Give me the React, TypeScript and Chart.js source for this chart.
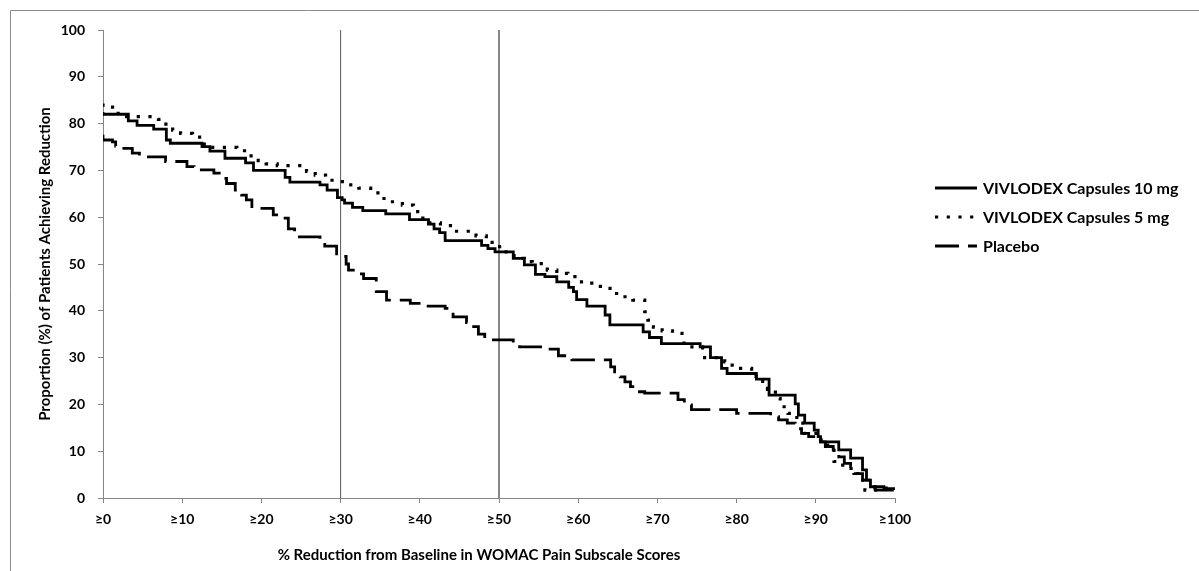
import { useEffect, useRef } from 'react';
import { Chart, registerables } from 'chart.js';

Chart.register(...registerables);

// ---- Data ----
const xTicks = [0, 10, 20, 30, 40, 50, 60, 70, 80, 90, 100];
const xTickLabels = ['≥0', '≥10', '≥20', '≥30', '≥40', '≥50', '≥60', '≥70', '≥80', '≥90', '≥100'];
const yTicks = [0, 10, 20, 30, 40, 50, 60, 70, 80, 90, 100];

const seriesNames = ['VIVLODEX Capsules 10 mg', 'VIVLODEX Capsules 5 mg', 'Placebo'];

const x10mg = [0, 3.2, 4.3, 6.4, 8.0, 8.5, 12.5, 13.5, 15.4, 18, 19, 23, 23.6, 27.4, 28.3, 29.6, 30.2, 30.5, 31.5, 32.8, 35.7, 38.7, 41.1, 41.8, 42.5, 43.2, 47.8, 48.6, 49.5, 51.8, 53.2, 54.6, 55.8, 57.3, 58.8, 59.4, 59.8, 61.1, 63.4, 64.0, 68.2, 69.0, 70.5, 75.4, 76.7, 78.1, 78.8, 82.5, 84.1, 87.4, 87.8, 88.6, 89.8, 90.3, 90.6, 92.9, 94.4, 95.9, 96.4, 96.9, 98.6, 100];
const y10mg = [82.5, 82.0, 80.6, 79.6, 78.8, 76.5, 75.8, 75.1, 74.1, 72.6, 71.6, 70.0, 68.5, 67.5, 66.9, 65.8, 64.2, 63.7, 63.0, 62.1, 61.4, 60.7, 59.5, 58.5, 57.5, 56.7, 55.0, 54.0, 53.3, 52.6, 51.2, 49.8, 47.8, 47.3, 46.2, 45.0, 44.1, 42.4, 41.0, 39.1, 37.0, 35.5, 34.3, 33.0, 32.3, 30.0, 27.7, 26.6, 25.4, 22.0, 20.1, 17.7, 16.0, 14.5, 13.1, 12.0, 10.3, 8.5, 6.0, 3.8, 2.4, 2.0];

const x5mg = [0, 1.6, 2.6, 7.0, 7.6, 8.8, 9.8, 11.3, 12.6, 13.6, 16.9, 18.2, 19.6, 20.6, 22.0, 25.7, 26.8, 28.1, 29.3, 30.8, 32.3, 33.8, 35.2, 36.3, 37.8, 39.2, 40.1, 41.1, 42.6, 44.1, 47.1, 48.4, 49.4, 50.9, 51.9, 53.2, 54.2, 56.1, 57.3, 58.7, 60.1, 61.4, 62.8, 64.3, 65.4, 66.9, 68.4, 68.8, 69.5, 70.6, 71.9, 73.1, 74.1, 75.7, 78.5, 79.1, 80.5, 81.9, 83.3, 83.9, 84.9, 85.5, 86.5, 87.6, 88.5, 90.6, 91.5, 92.3, 93.4, 95.3, 96.2, 97.5, 99.3, 100];
const y5mg = [84.3, 83.5, 82.2, 81.5, 80.9, 79.9, 78.6, 77.9, 77.1, 75.6, 74.9, 74.2, 73.1, 72.1, 71.4, 71.0, 69.8, 69.0, 67.9, 67.6, 66.9, 66.2, 65.2, 64.0, 63.3, 62.6, 61.2, 59.8, 58.8, 58.2, 57.0, 56.0, 54.6, 53.7, 52.6, 51.2, 50.5, 50.1, 48.7, 48.0, 47.3, 46.2, 45.9, 44.8, 43.7, 43.0, 42.3, 39.8, 38.0, 36.5, 35.7, 35.2, 33.1, 32.3, 30.0, 29.1, 28.4, 27.7, 26.0, 24.9, 23.2, 21.3, 19.5, 18.1, 16.0, 13.8, 12.4, 11.0, 7.8, 6.3, 3.8, 1.7, 2.1, 2.1];

const xPlacebo = [0, 1.2, 1.6, 2.2, 3.7, 4.6, 7.9, 10.6, 11.5, 14.0, 15.0, 15.6, 16.7, 17.5, 18.1, 18.8, 21.5, 22.1, 23.4, 24.2, 24.8, 27.4, 28.0, 29.5, 30.7, 31.0, 31.6, 32.9, 34.5, 35.8, 38.8, 40.5, 43.2, 44.2, 45.9, 46.8, 47.4, 48.2, 51.8, 52.6, 56.0, 57.5, 59.2, 64.1, 64.6, 65.3, 65.9, 66.6, 67.4, 68.4, 72.6, 73.4, 74.3, 80.0, 84.3, 85.3, 86.4, 87.4, 88.2, 89.1, 90.1, 91.2, 92.2, 92.9, 93.6, 94.4, 94.8, 95.9, 97.1, 97.5, 98.5, 99.4, 100];
const yPlacebo = [77.6, 76.5, 76.1, 75.2, 74.7, 73.7, 72.9, 71.9, 70.8, 70.1, 69.4, 68.3, 67.2, 65.8, 64.7, 63.7, 61.9, 60.5, 59.8, 57.5, 57.0, 55.8, 54.6, 53.8, 51.6, 50.0, 48.7, 47.9, 46.9, 44.1, 42.3, 41.6, 41.0, 40.5, 38.7, 37.5, 36.6, 35.0, 33.8, 32.7, 32.3, 31.8, 30.4, 29.5, 28.0, 26.5, 25.9, 24.8, 23.8, 22.7, 22.4, 21.0, 19.9, 18.9, 18.1, 17.4, 16.7, 16.0, 14.8, 13.8, 13.1, 12.0, 11.0, 10.3, 8.8, 7.4, 6.7, 5.2, 3.8, 2.4, 1.7, 1.7, 1.7];

const refLinesX = [30, 50];
const refLineColors = ['#555555', '#111111'];

const xTitle = '% Reduction from Baseline in WOMAC Pain Subscale Scores';
const yTitle = 'Proportion (%) of Patients Achieving Reduction';

const FONT = 'Lato, "Open Sans", "DejaVu Sans", sans-serif';

function toPoints(xs: number[], ys: number[]) {
  return xs.map((x, i) => ({ x, y: ys[i] }));
}

const extrasPlugin = {
  id: 'extras',
  afterDraw(chart: any) {
    const ctx = chart.ctx as CanvasRenderingContext2D;
    const area = chart.chartArea;
    ctx.save();
    // Outer frame
    ctx.strokeStyle = '#8c8c8c';
    ctx.lineWidth = 1;
    ctx.beginPath();
    ctx.moveTo(10.5, chart.height);
    ctx.lineTo(10.5, 10.5);
    ctx.lineTo(chart.width, 10.5);
    ctx.stroke();

    // Axis titles
    ctx.fillStyle = '#000';
    ctx.font = `bold 15px ${FONT}`;
    ctx.textAlign = 'center';
    ctx.textBaseline = 'middle';
    ctx.fillText(xTitle, 479, 555);
    ctx.save();
    ctx.translate(45, (area.top + area.bottom) / 2);
    ctx.rotate(-Math.PI / 2);
    ctx.fillText(yTitle, 0, 0);
    ctx.restore();

    // Legend
    const rowsY = [188, 217, 246];
    const ds = chart.data.datasets.filter((d: any) => !d.isRef);
    ds.forEach((d: any, i: number) => {
      const y = rowsY[i];
      ctx.save();
      ctx.strokeStyle = d.borderColor;
      ctx.lineWidth = d.borderWidth;
      ctx.setLineDash(d.borderDash || []);
      ctx.lineCap = 'butt';
      ctx.beginPath();
      ctx.moveTo(935, y);
      ctx.lineTo(977, y);
      ctx.stroke();
      ctx.restore();
      ctx.fillStyle = '#000';
      ctx.font = `bold 16px ${FONT}`;
      ctx.textAlign = 'left';
      ctx.textBaseline = 'middle';
      ctx.fillText(d.label, 983, y + 1);
    });
    ctx.restore();
  },
};

export default function App() {
  const canvasRef = useRef<HTMLCanvasElement | null>(null);

  useEffect(() => {
    if (!canvasRef.current) return;
    const refDatasets = refLinesX.map((rx, i) => ({
      label: 'ref' + rx,
      isRef: true,
      data: [{ x: rx, y: 0 }, { x: rx, y: 100 }],
      borderColor: refLineColors[i],
      borderWidth: 1,
      pointRadius: 0,
      order: 10,
    }));
    const chart = new Chart(canvasRef.current, {
      type: 'line',
      data: {
        datasets: [
          {
            label: seriesNames[0],
            data: toPoints(x10mg, y10mg),
            borderColor: '#000',
            borderWidth: 2.8,
            pointRadius: 0,
            stepped: 'after',
            order: 1,
          },
          {
            label: seriesNames[1],
            data: toPoints(x5mg, y5mg),
            borderColor: '#000',
            borderWidth: 3.2,
            borderDash: [3.2, 8.5],
            pointRadius: 0,
            stepped: 'after',
            order: 2,
          },
          {
            label: seriesNames[2],
            data: toPoints(xPlacebo, yPlacebo),
            borderColor: '#000',
            borderWidth: 2.8,
            borderDash: [24, 9],
            pointRadius: 0,
            stepped: 'after',
            order: 3,
          },
          ...refDatasets,
        ] as any,
      },
      options: {
        responsive: false,
        animation: false,
        devicePixelRatio: 1,
        layout: { padding: { left: 0, top: 30, right: 304, bottom: 0 } },
        plugins: {
          legend: { display: false },
          tooltip: { enabled: false },
        },
        scales: {
          x: {
            type: 'linear',
            min: 0,
            max: 100,
            afterBuildTicks: (scale: any) => {
              scale.ticks = xTicks.map((v) => ({ value: v }));
            },
            afterFit: (scale: any) => {
              scale.height = 73;
            },
            ticks: {
              autoSkip: false,
              maxRotation: 0,
              color: '#000',
              padding: 8,
              font: { family: FONT, size: 14, weight: 'bold' },
              callback: (v: any) => {
                const i = xTicks.indexOf(Number(v));
                return i >= 0 ? xTickLabels[i] : '';
              },
            },
            grid: { drawOnChartArea: false, drawTicks: true, tickLength: 5, color: '#868686' },
            border: { color: '#868686', width: 1 },
          },
          y: {
            type: 'linear',
            min: 0,
            max: 100,
            afterBuildTicks: (scale: any) => {
              scale.ticks = yTicks.map((v) => ({ value: v }));
            },
            afterFit: (scale: any) => {
              scale.width = 103;
            },
            ticks: {
              autoSkip: false,
              color: '#000',
              padding: 13,
              font: { family: FONT, size: 14, weight: 'bold' },
            },
            grid: { drawOnChartArea: false, drawTicks: true, tickLength: 5, color: '#868686' },
            border: { color: '#868686', width: 1 },
          },
        },
      } as any,
      plugins: [extrasPlugin],
    });
    return () => chart.destroy();
  }, []);

  return (
    <div style={{ position: 'fixed', left: 0, top: 0, width: 1199, height: 571, background: '#fff', overflow: 'hidden' }}>
      <canvas ref={canvasRef} width={1199} height={571} style={{ display: 'block', width: 1199, height: 571 }} />
    </div>
  );
}
